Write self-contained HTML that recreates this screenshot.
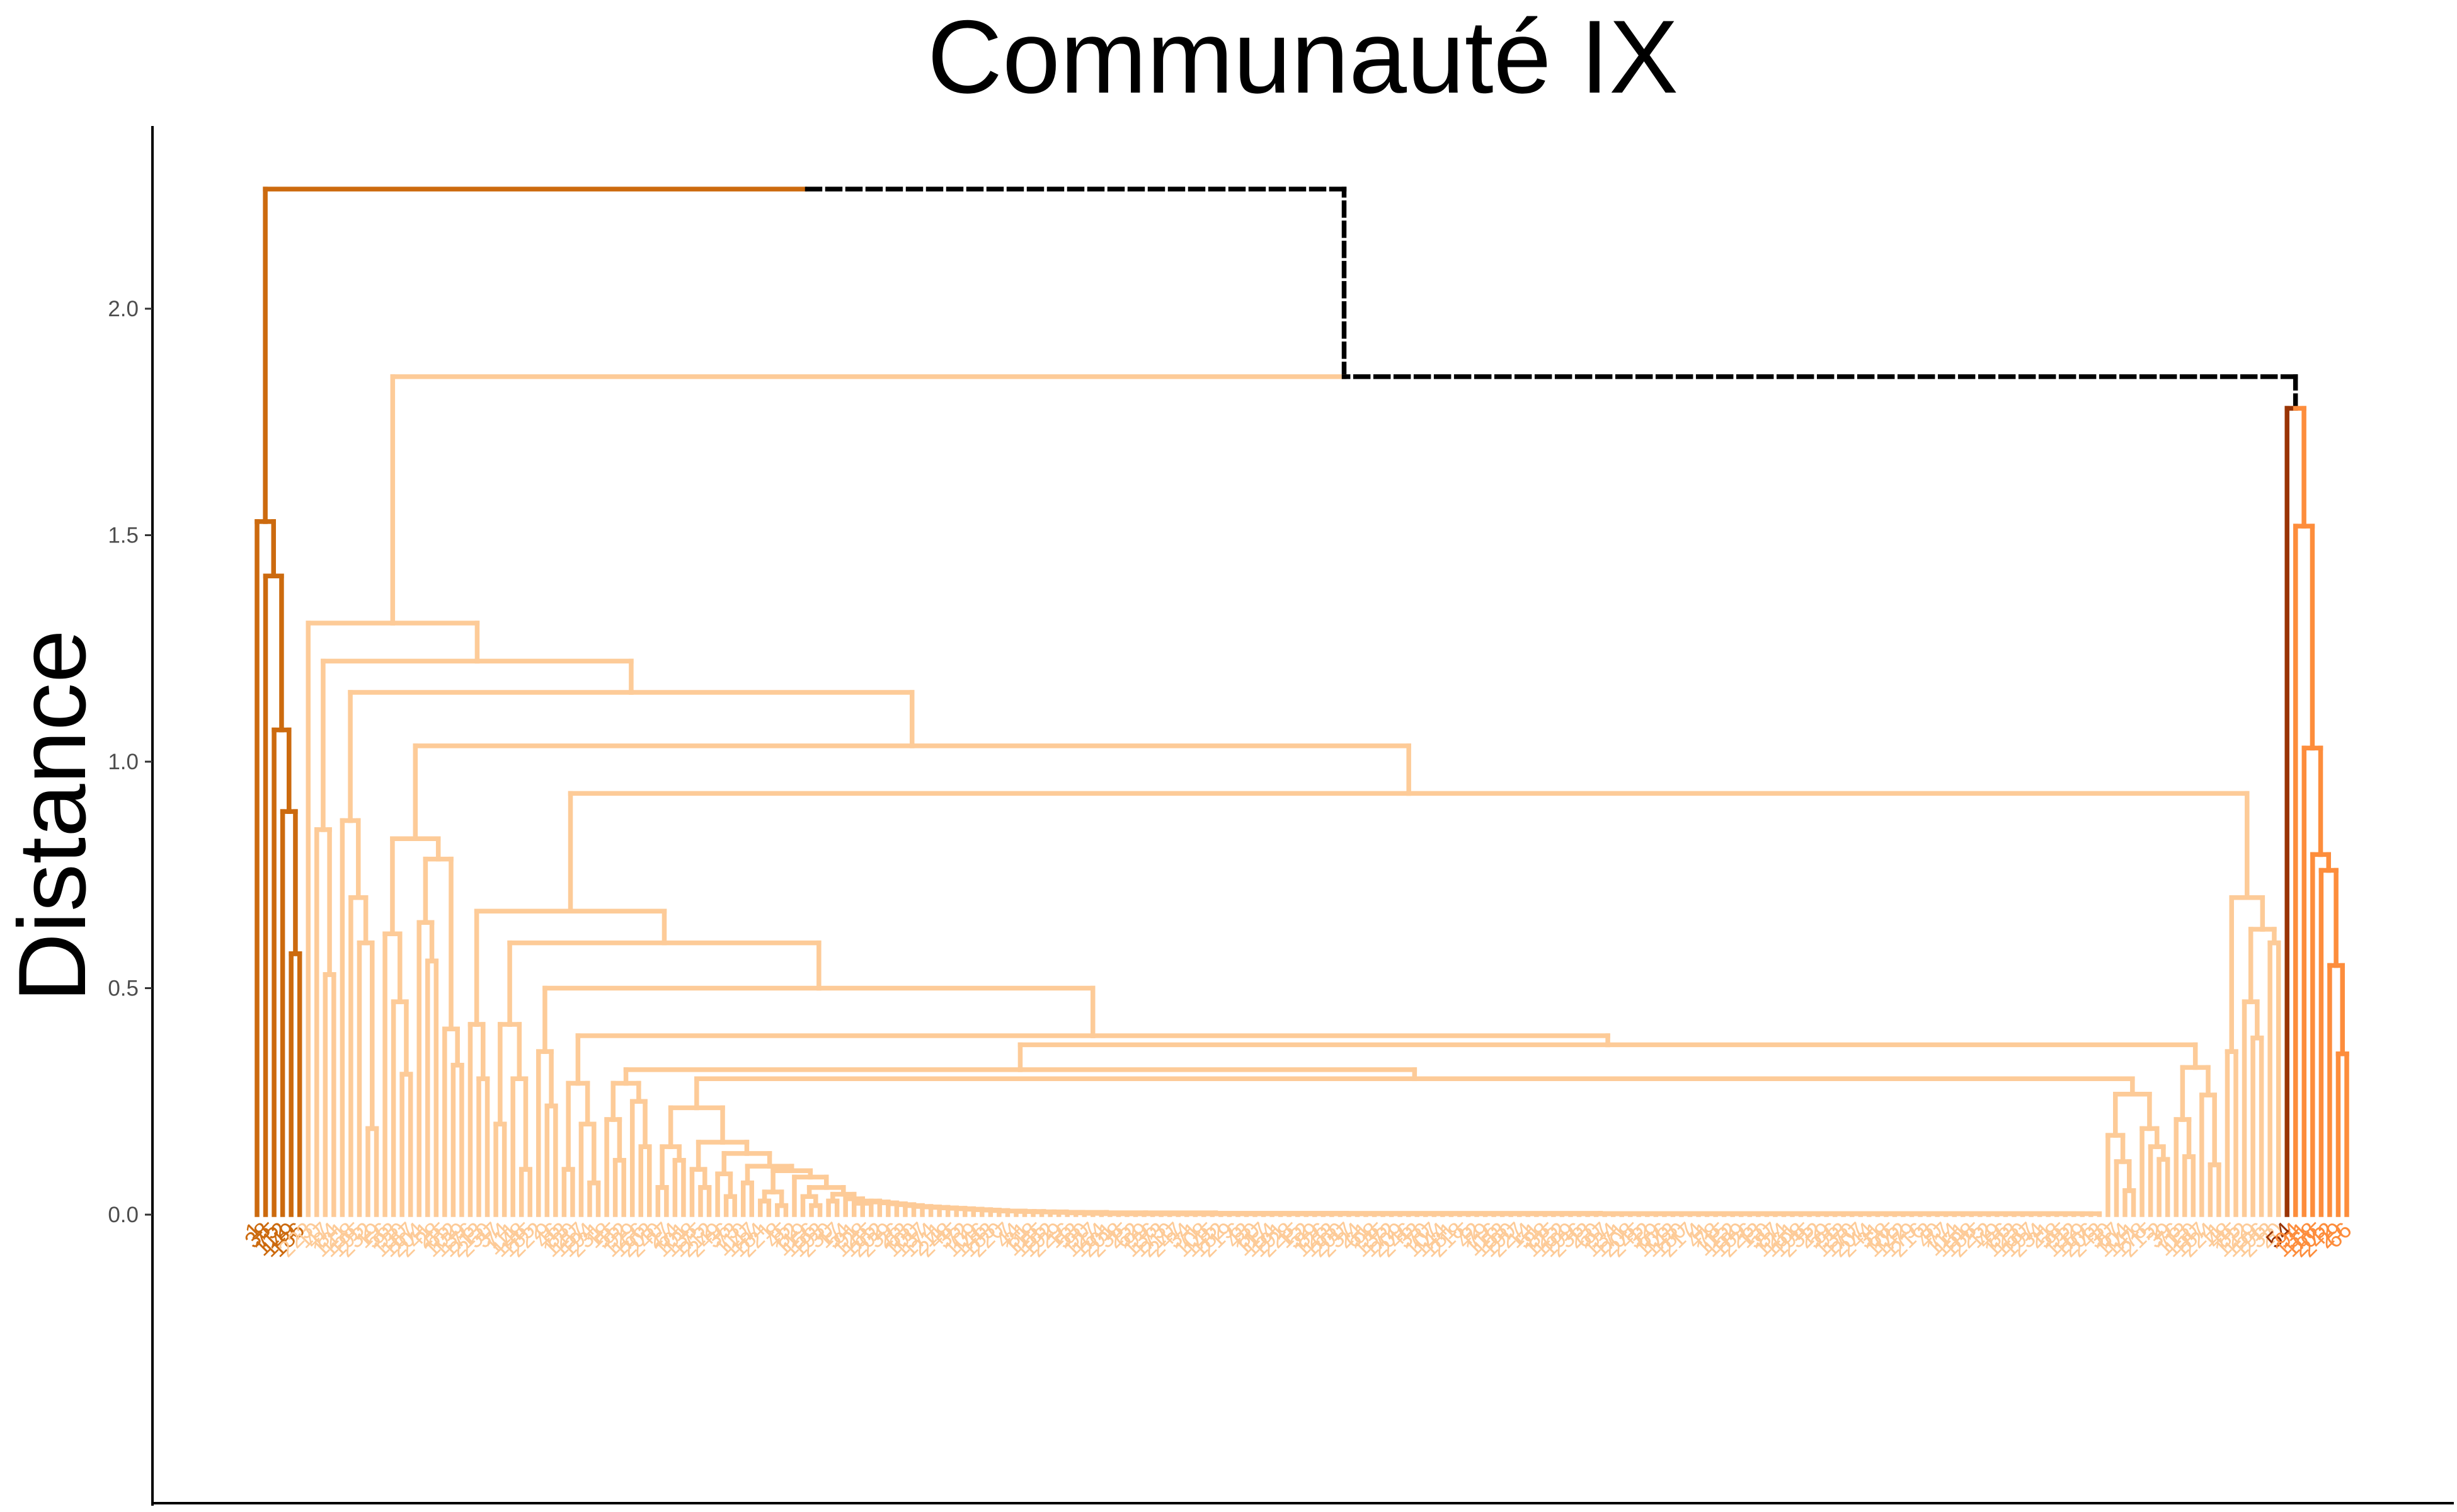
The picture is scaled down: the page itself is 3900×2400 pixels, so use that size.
<!DOCTYPE html>
<html><head><meta charset="utf-8"><style>
html,body{margin:0;padding:0;background:#fff;}
svg{display:block;}
</style></head><body>
<svg id="chart" width="3900" height="2400" viewBox="0 0 3900 2400" xmlns="http://www.w3.org/2000/svg">
<rect x="0" y="0" width="3900" height="2400" fill="#fff"/>
<text x="2068" y="147" text-anchor="middle" font-family="Liberation Sans, sans-serif" font-size="165" fill="#000">Communauté IX</text>
<text transform="translate(135,1295) rotate(-90)" text-anchor="middle" font-family="Liberation Sans, sans-serif" font-size="152" fill="#000">Distance</text>
<g id="axes"></g>
<g id="tree"></g>
<g id="labels"></g>
</svg>
<script>
// ---- data ----
const yTicks = [0.0, 0.5, 1.0, 1.5, 2.0];
const yTickLabels = ["0.0", "0.5", "1.0", "1.5", "2.0"];
const clusterColors = {A: "#CC6A0E", B: "#FDCB98", C: "#FD8D3C", D: "#993404"};
// node = [height, left, right]; leaf = 0; flat group = {h, n}
const tinySteps = [0.03,0.028,0.026,0.024,0.022,0.02,0.018,0.017,0.016,0.015,0.014,0.013,0.012,0.011,0.01,0.009,0.008,0.008,0.007,0.007,0.006,0.006,0.005,0.005,0.004,0.004,0.003,0.003];
const tinyRestHeight = 0.002;
const tinyRestCount = 118;
const clusterA = [1.53, 0, [1.41, 0, [1.07, 0, [0.89, 0, [0.576, 0, 0]]]]];
const clusterC = [1.78, 0, [1.52, 0, [1.03, 0, [0.795, 0, [0.76, 0, [0.55, 0, [0.355, 0, 0]]]]]]];
const groupR = [0.70, [0.36, 0, 0], [0.63, [0.47, 0, [0.39, 0, 0]], [0.60, 0, 0]]];
const groupG1 = [0.266, [0.175, 0, [0.117, 0, [0.053, 0, 0]]], [0.19, 0, [0.15, 0, [0.122, 0, 0]]]];
const groupG2 = [0.325, [0.21, 0, [0.128, 0, 0]], [0.264, 0, [0.11, 0, 0]]];
const groupX = [0.29, [0.21, 0, [0.12, 0, 0]], [0.25, 0, [0.15, 0, 0]]];
const stairHeights = [0.16, 0.135, 0.107, 0.097, 0.083, 0.06, 0.045, 0.035];
const stairSides = [[0.10,0,[0.06,0,0]], [0.09,0,[0.04,0,0]], [0.07,0,0], [0.05,[0.03,0,0],[0.02,0,0]], 0, [0.04,0,[0.02,0,0]], [0.03,0,0], 0];
const zTop = 0.236, zSide = [0.15, [0.06,0,0], [0.12,0,0]];
const y10 = 0.32, y11 = 0.30, n9h = 0.375, n8h = 0.395, n7h = 0.50, n6h = 0.60, n5h = 0.67, n4h = 0.93;
const n8Side = [0.29, [0.10,0,0], [0.20,0,[0.07,0,0]]];
const n7Side = [0.36, 0, [0.24, 0, 0]];
const n6Side = [0.42, [0.20,0,0], [0.30,0,[0.10,0,0]]];
const n5Side = [0.42, 0, [0.30, 0, 0]];
const n3Side = [0.83, [0.62,0,[0.47,0,[0.31,0,0]]], [0.785,[0.645,0,[0.56,0,0]],[0.41,0,[0.33,0,0]]]];
const n2Side = [0.87, 0, [0.70, 0, [0.60, 0, [0.19, 0, 0]]]];
const n1Side = [0.85, 0, [0.53, 0, 0]];
const nodeHeights = {n3: 1.035, n2: 1.153, n1: 1.222, b: 1.306, mid: 1.85, root: 2.264};

// ---- build tree ----
let tiny = {h: tinyRestHeight, n: tinyRestCount};
for (let i = tinySteps.length - 1; i >= 0; i--) tiny = [tinySteps[i], 0, tiny];
let S = [0.025, 0, tiny];
for (let i = stairHeights.length - 1; i >= 0; i--) S = [stairHeights[i], stairSides[i], S];
const Z = [zTop, zSide, S];
const Y = [y11, Z, groupG1];
const N10 = [y10, groupX, Y];
const N9 = [n9h, N10, groupG2];
const N8 = [n8h, n8Side, N9];
const N7 = [n7h, n7Side, N8];
const N6 = [n6h, n6Side, N7];
const N5 = [n5h, n5Side, N6];
const N4 = [n4h, N5, groupR];
const N3 = [nodeHeights.n3, n3Side, N4];
const N2 = [nodeHeights.n2, n2Side, N3];
const N1 = [nodeHeights.n1, n1Side, N2];
const clusterB = [nodeHeights.b, 0, N1];
const rootTree = [nodeHeights.root, clusterA, [nodeHeights.mid, clusterB, clusterC]];

// ---- scales ----
const X0 = 408, X1 = 3725, Y0 = 1928, PX_PER_UNIT = 719;
function yScale(h) { return Y0 - h * PX_PER_UNIT; }

const leaves = [];
function layout(node, cl) {
  if (node === 0) { const o = {leaf: true, idx: leaves.length, h: 0, cl: cl}; leaves.push(o); return o; }
  if (!Array.isArray(node)) {
    const kids = [];
    for (let k = 0; k < node.n; k++) { const o = {leaf: true, idx: leaves.length, h: 0, cl: cl}; leaves.push(o); kids.push(o); }
    return {flat: true, h: node.h, kids: kids, cl: cl};
  }
  return {h: node[0], l: layout(node[1], cl), r: layout(node[2], cl)};
}
const tree = {h: rootTree[0], l: layout(clusterA, "A"), r: null};
const midNode = {h: rootTree[2][0], l: layout(clusterB, "B"), r: null};
const cTree = (function(){
  const first = {leaf: true, idx: leaves.length, h: 0, cl: "D"}; leaves.push(first);
  return {h: clusterC[0], l: first, r: layout(clusterC[2], "C")};
})();
midNode.r = cTree; tree.r = midNode;
const N = leaves.length;
function xScale(i) { return X0 + i * (X1 - X0) / (N - 1); }
function finish(n) {
  if (n.leaf) { n.x = xScale(n.idx); n.cls = [n.cl]; return; }
  if (n.flat) { n.kids.forEach(finish); n.x = (n.kids[0].x + n.kids[n.kids.length-1].x) / 2; n.cls = [n.cl]; return; }
  finish(n.l); finish(n.r);
  n.x = (n.l.x + n.r.x) / 2;
  n.cls = Array.from(new Set(n.l.cls.concat(n.r.cls)));
}
finish(tree);

const NS = "http://www.w3.org/2000/svg";
const treeG = document.getElementById("tree");
function seg(x1, y1, x2, y2, child) {
  const p = document.createElementNS(NS, "path");
  p.setAttribute("d", "M" + x1 + "," + y1 + "L" + x2 + "," + y2);
  if (child.cls.length > 1) {
    p.setAttribute("stroke", "#000");
    p.setAttribute("stroke-dasharray", "20,12");
  } else {
    p.setAttribute("stroke", clusterColors[child.cls[0]]);
  }
  p.setAttribute("stroke-width", "7.5");
  p.setAttribute("fill", "none");
  p.setAttribute("stroke-linecap", "square");
  
  
  treeG.appendChild(p);
}
function drawChild(parent, child) {
  const py = yScale(parent.h), cy = yScale(child.h);
  seg(child.x, cy, child.x, py, child);
  seg(child.x, py, parent.x, py, child);
}
function draw(n) {
  if (n.leaf) return;
  if (n.flat) { n.kids.forEach(k => drawChild(n, k)); return; }
  drawChild(n, n.l); drawChild(n, n.r);
  draw(n.l); draw(n.r);
}
draw(tree);

const labG = document.getElementById("labels");
leaves.forEach(function(lf, i) {
  const t = document.createElementNS(NS, "text");
  const x = lf.x, y = 1955;
  t.setAttribute("transform", "translate(" + (x + 10) + "," + y + ") rotate(-45)");
  t.setAttribute("text-anchor", "end");
  t.setAttribute("font-family", "Liberation Sans, sans-serif");
  t.setAttribute("font-size", "36");
  t.setAttribute("fill", clusterColors[lf.cl]);
  t.textContent = lf.cl === "D" ? "54" : String(((i * 37) % 250) + 1);
  
  
  labG.appendChild(t);
});

const axG = document.getElementById("axes");
function line(x1, y1, x2, y2, w, c, name) {
  const l = document.createElementNS(NS, "line");
  l.setAttribute("x1", x1); l.setAttribute("y1", y1); l.setAttribute("x2", x2); l.setAttribute("y2", y2);
  l.setAttribute("stroke", c); l.setAttribute("stroke-width", w);
  
  
  axG.appendChild(l);
}
line(242, 200, 242, 2390, 4, "#000", "y-axis-line");
line(240, 2386, 3895, 2386, 4, "#000", "x-axis-line");
yTicks.forEach(function(v, i) {
  const y = yScale(v);
  line(230, y, 242, y, 3, "#333", "y-tick");
  const t = document.createElementNS(NS, "text");
  t.setAttribute("x", 220); t.setAttribute("y", y + 12);
  t.setAttribute("text-anchor", "end");
  t.setAttribute("font-family", "Liberation Sans, sans-serif");
  t.setAttribute("font-size", "35");
  t.setAttribute("fill", "#4d4d4d");
  t.textContent = yTickLabels[i];
  
  
  axG.appendChild(t);
});
</script>
</body></html>
